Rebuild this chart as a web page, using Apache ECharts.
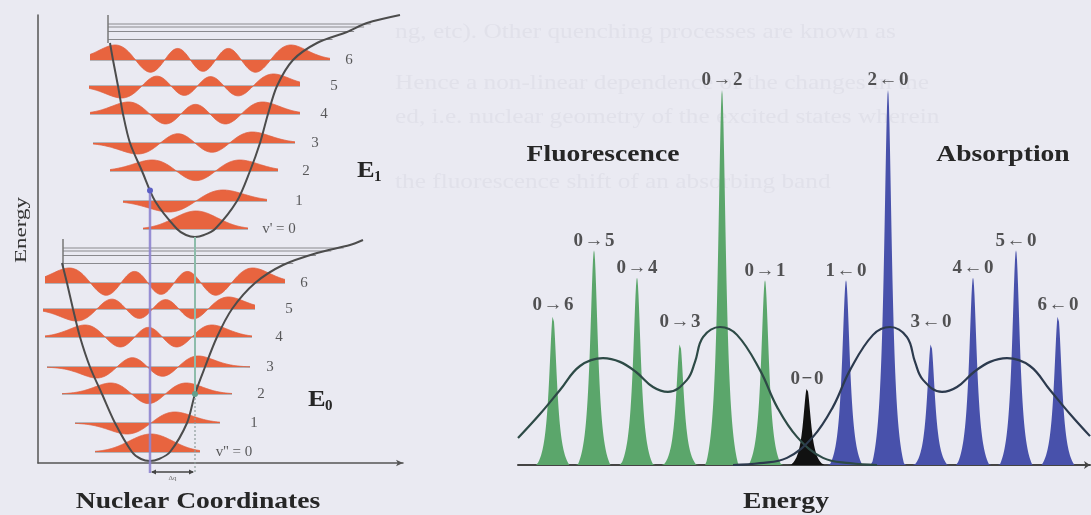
<!DOCTYPE html>
<html>
<head>
<meta charset="utf-8">
<script src="https://cdn.jsdelivr.net/npm/echarts@6.0.0/dist/echarts.min.js"></script>
<style>
html,body{margin:0;padding:0;background:#eaeaf2;overflow:hidden;}
#chart{width:1091px;height:515px;}
</style>
</head>
<body>
<div id="chart"></div>
<script>
// ================= DATA =================
// ---- Left panel: potential energy curves (nuclear coordinate vs energy, arbitrary units) ----
const groundMin  = [1.12, 0.02];
const excitedMin = [1.57, 2.26];
const groundShapeDx  = [-0.88,-0.83,-0.77,-0.70,-0.60,-0.48,-0.35,-0.18,-0.09,0,0.09,0.20,0.37,0.45,0.55,0.67,0.82,1.05,1.33,1.67,2.00,2.13];
const groundShapeDy  = [1.98,1.78,1.52,1.24,0.94,0.67,0.38,0.09,0.02,0,0.02,0.09,0.38,0.67,0.94,1.24,1.52,1.78,1.96,2.08,2.16,2.21];
const excitedShapeDx = [-0.85,-0.82,-0.77,-0.72,-0.65,-0.53,-0.40,-0.18,-0.09,0,0.09,0.20,0.42,0.55,0.65,0.73,0.82,0.98,1.22,1.52,1.72,2.05];
const excitedShapeDy = [1.94,1.77,1.51,1.23,0.94,0.66,0.36,0.08,0.02,0,0.02,0.08,0.36,0.66,0.94,1.23,1.51,1.77,1.94,2.05,2.14,2.22];
const groundLevels  = [0.09,0.38,0.67,0.94,1.24,1.52,1.78];
const excitedLevels = [0.08,0.36,0.66,0.94,1.23,1.51,1.77];
const groundLevelLeft   = [-0.55,-0.75,-0.88,-1.03,-1.05,-1.07,-1.05];
const groundLevelRight  = [0.50,0.70,0.82,1.00,1.02,1.05,1.35];
const excitedLevelLeft  = [-0.52,-0.72,-0.85,-1.02,-1.05,-1.06,-1.05];
const excitedLevelRight = [0.53,0.72,0.83,1.00,1.05,1.05,1.35];
const waveAmplitude = [0.18,0.11,0.11,0.11,0.12,0.12,0.15];
const dissociationDy = [2.13,2.10,2.055,1.975];
const dissociationLeftDx = -0.87;
const dissociationTickDy = [1.94,2.22];
const levelLabelDx = [0.84,1.04,1.11,1.20,1.29,1.39,1.54];
const groundLevelNames  = ["v'' = 0","1","2","3","4","5","6"];
const excitedLevelNames = ["v' = 0","1","2","3","4","5","6"];

// ---- Right panel: spectrum (energy vs intensity, arbitrary units) ----
const fluorPos   = [1.75, 3.8, 5.95, 8.1, 10.2, 12.35];
const fluorInt   = [0.40, 0.573, 0.50, 0.325, 1.0, 0.493];
const fluorNames = ['0\u200a\u2192\u200a6','0\u200a\u2192\u200a5','0\u200a\u2192\u200a4','0\u200a\u2192\u200a3','0\u200a\u2192\u200a2','0\u200a\u2192\u200a1'];
const zeroPos    = [14.45];
const zeroInt    = [0.205];
const zeroNames  = ['0\u200a\u2212\u200a0'];
const absPos     = [16.4, 18.5, 20.65, 22.75, 24.9, 27.0];
const absInt     = [0.493, 1.0, 0.325, 0.50, 0.573, 0.40];
const absNames   = ['1\u200a\u2190\u200a0','2\u200a\u2190\u200a0','3\u200a\u2190\u200a0','4\u200a\u2190\u200a0','5\u200a\u2190\u200a0','6\u200a\u2190\u200a0'];
const fluorLabelLift = [0,0,0,12,0,0];
const absLabelLift   = [0,0,12,0,0,0];
const fluorEnvX = [0,1.1,2.1,3.1,4.25,5.1,5.9,6.75,7.5,8.45,8.85,9.25,10.1,10.95,12.1,12.95,13.95,15.25,16.6,17.95];
const fluorEnvY = [0.072,0.136,0.2,0.264,0.285,0.275,0.248,0.208,0.195,0.227,0.275,0.341,0.368,0.347,0.253,0.155,0.075,0.019,0.005,0.0];
const absEnvX = [10.75,12.1,13.45,14.75,15.75,16.6,17.75,18.6,19.45,19.85,20.25,21.2,21.95,22.8,23.6,24.45,25.6,26.6,27.6,28.6];
const absEnvY = [0.0,0.005,0.019,0.075,0.155,0.253,0.347,0.368,0.341,0.275,0.227,0.195,0.208,0.248,0.275,0.285,0.264,0.2,0.136,0.077];

// ================= HELPERS =================
const SERIF = "'Liberation Serif','Times New Roman','DejaVu Serif',serif";
function branchDx(dxs, dys, target, side){
  const m = dxs.indexOf(0);
  if (side < 0){
    for (let i=m;i>0;i--){ const a=dys[i], b=dys[i-1]; if (target>=a && target<=b){ const t=(target-a)/(b-a); return dxs[i]+t*(dxs[i-1]-dxs[i]); } }
    return dxs[0];
  }
  for (let i=m;i<dxs.length-1;i++){ const a=dys[i], b=dys[i+1]; if (target>=a && target<=b){ const t=(target-a)/(b-a); return dxs[i]+t*(dxs[i+1]-dxs[i]); } }
  return dxs[dxs.length-1];
}
function branchDy(dxs, dys, x, side){
  const m = dxs.indexOf(0);
  if (side < 0){
    for (let i=m;i>0;i--){ const a=dxs[i], b=dxs[i-1]; if (x<=a && x>=b){ const t=(x-a)/(b-a); return dys[i]+t*(dys[i-1]-dys[i]); } }
  } else {
    for (let i=m;i<dxs.length-1;i++){ const a=dxs[i], b=dxs[i+1]; if (x>=a && x<=b){ const t=(x-a)/(b-a); return dys[i]+t*(dys[i+1]-dys[i]); } }
  }
  return 0;
}
function hermite(n, x){
  if (n===0) return 1;
  let h0=1, h1=2*x;
  for (let k=1;k<n;k++){ const h2=2*x*h1-2*k*h0; h0=h1; h1=h2; }
  return h1;
}
const states = [
  {min:groundMin, dx:groundShapeDx, dy:groundShapeDy, levels:groundLevels, left:groundLevelLeft, right:groundLevelRight, names:groundLevelNames},
  {min:excitedMin, dx:excitedShapeDx, dy:excitedShapeDy, levels:excitedLevels, left:excitedLevelLeft, right:excitedLevelRight, names:excitedLevelNames}
];
const waves = [];
states.forEach(st => st.levels.forEach((lv, v) => {
  const xl = branchDx(st.dx, st.dy, lv, -1), xr = branchDx(st.dx, st.dy, lv, 1);
  const c = (xl+xr)/2, s = (xr-xl)/2/Math.sqrt(2*v+1)*1.15;
  const L = st.left[v], R = st.right[v], N = 220, raw = [];
  for (let i=0;i<=N;i++){ const x=L+(R-L)*i/N, xi=(x-c)/s; raw.push([x, hermite(v,xi)*Math.exp(-xi*xi/2)]); }
  const mx = Math.max(...raw.map(r=>Math.abs(r[1])));
  waves.push({y:st.min[1]+lv, x0:st.min[0]+L, x1:st.min[0]+R,
    pts: raw.map(r=>[st.min[0]+r[0], st.min[1]+lv+waveAmplitude[v]*r[1]/mx])});
}));
function curvePoints(st){ return st.dx.map((d,i)=>[st.min[0]+d, st.min[1]+st.dy[i]]); }

function peakShape(d){ const g=0.24, R=0.82; if (d>=R) return 0; const L=1/(1+(d/g)*(d/g)), LR=1/(1+(R/g)*(R/g)); return (L-LR)/(1-LR); }
function groupSamples(pos, inten){
  const xs=[]; for (let i=0;i<=1144;i++) xs.push(i*0.025);
  pos.forEach(p=>xs.push(p)); xs.sort((a,b)=>a-b);
  return xs.map(x=>[x, Math.max(0, ...pos.map((p,i)=>inten[i]*peakShape(Math.abs(x-p))))]);
}
function zipXY(xs, ys){ return xs.map((x,i)=>[x, ys[i]]); }

// transitions
const purpleX = groundMin[0];
const purpleTop = excitedMin[1] + branchDy(excitedShapeDx, excitedShapeDy, purpleX-excitedMin[0], -1);
const tealX = excitedMin[0];
const tealBot = groundMin[1] + branchDy(groundShapeDx, groundShapeDy, tealX-groundMin[0], 1);

// ================= CHART =================
const chart = echarts.init(document.getElementById('chart'), null, {renderer:'canvas', width:1091, height:515});
const noAxisBits = {axisTick:{show:false}, axisLabel:{show:false}, splitLine:{show:false}};

const labelFont = {fontFamily:SERIF, fontSize:19, fontWeight:'bold', color:'#2a2a2a'};
function peakLabelData(pos, inten, names, lift){
  return pos.map((p,i)=>({value:[p, inten[i]], name:names[i], label:{offset:[0, -(lift ? lift[i] : 0)]}}));
}

const option = {
  backgroundColor:'#eaeaf2',
  animation:false,
  grid:[
    {left:38, top:15, width:365, height:448, outerBoundsMode:'none'},
    {left:518, top:90, width:572, height:375, outerBoundsMode:'none'}
  ],
  xAxis:[
    Object.assign({gridIndex:0, type:'value', min:0, max:3.65,
      axisLine:{show:true, onZero:false, symbol:['none','arrow'], symbolSize:[5,7], lineStyle:{color:'#555', width:1.5}}}, noAxisBits),
    Object.assign({gridIndex:1, type:'value', min:0, max:28.6,
      axisLine:{show:true, onZero:false, symbol:['none','arrow'], symbolSize:[6,6], lineStyle:{color:'#444', width:2}}}, noAxisBits)
  ],
  yAxis:[
    Object.assign({gridIndex:0, type:'value', min:0, max:4.48,
      axisLine:{show:true, onZero:false, lineStyle:{color:'#555', width:1.5}}}, noAxisBits),
    Object.assign({gridIndex:1, type:'value', min:0, max:1, show:false}, noAxisBits)
  ],
  series:[
    // dissociation limit lines
    {type:'custom', xAxisIndex:0, yAxisIndex:0, z:2, silent:true, clip:false,
      data: states.map((st,i)=>[st.min[0], st.min[1], i]),
      renderItem:function(params, api){
        const st = states[params.dataIndex];
        const ch = [];
        dissociationDy.forEach(d=>{
          const a = api.coord([st.min[0]+dissociationLeftDx, st.min[1]+d]);
          const b = api.coord([st.min[0]+branchDx(st.dx, st.dy, d, 1), st.min[1]+d]);
          ch.push({type:'line', shape:{x1:a[0],y1:a[1],x2:b[0]+6,y2:b[1]}, style:{stroke:'#8a8a8e', lineWidth:1}});
        });
        const t1 = api.coord([st.min[0]+dissociationLeftDx, st.min[1]+dissociationTickDy[0]]);
        const t2 = api.coord([st.min[0]+dissociationLeftDx, st.min[1]+dissociationTickDy[1]]);
        ch.push({type:'line', shape:{x1:t1[0],y1:t1[1],x2:t2[0],y2:t2[1]}, style:{stroke:'#777', lineWidth:1.5}});
        return {type:'group', children:ch};
      }},
    // vibrational wavefunctions
    {type:'custom', xAxisIndex:0, yAxisIndex:0, z:2, silent:true, clip:false,
      data: waves.map(w=>[(w.x0+w.x1)/2, w.y]),
      renderItem:function(params, api){
        const w = waves[params.dataIndex];
        const pts = w.pts.map(p=>api.coord(p));
        const b0 = api.coord([w.x0, w.y]), b1 = api.coord([w.x1, w.y]);
        return {type:'group', children:[
          {type:'line', shape:{x1:b0[0],y1:b0[1],x2:b1[0],y2:b1[1]}, style:{stroke:'#707070', lineWidth:0.9}},
          {type:'polygon', shape:{points:pts.concat([b1,b0])}, style:{fill:'#e8643f', stroke:null}},
          {type:'polyline', shape:{points:pts}, style:{stroke:'#de6040', lineWidth:0.8, fill:null}}
        ]};
      }},
    // potential curves
    {type:'line', name:'E0', xAxisIndex:0, yAxisIndex:0, z:3, clip:false, silent:true, showSymbol:false, symbol:'none', smooth:0.3,
      data: curvePoints(states[0]), lineStyle:{color:'#4c4c4c', width:2}},
    {type:'line', name:'E1', xAxisIndex:0, yAxisIndex:0, z:3, clip:false, silent:true, showSymbol:false, symbol:'none', smooth:0.3,
      data: curvePoints(states[1]), lineStyle:{color:'#4c4c4c', width:2}},
    // vertical transitions + displacement bracket
    {type:'custom', xAxisIndex:0, yAxisIndex:0, z:4, silent:true, clip:false,
      data:[[purpleX, purpleTop, tealX, tealBot]],
      renderItem:function(params, api){
        const pT = api.coord([purpleX, purpleTop]), pB = api.coord([purpleX, -0.10]);
        const tT = api.coord([tealX, excitedMin[1]]), tM = api.coord([tealX, tealBot]), tB = api.coord([tealX, -0.10]);
        const aL = api.coord([purpleX, -0.09]), aR = api.coord([tealX, -0.09]);
        const y = aL[1];
        return {type:'group', children:[
          {type:'line', shape:{x1:pT[0],y1:pT[1],x2:pB[0],y2:pB[1]}, style:{stroke:'#8e84cf', lineWidth:2.5, opacity:0.9}},
          {type:'line', shape:{x1:tT[0],y1:tT[1],x2:tM[0],y2:tM[1]}, style:{stroke:'#8dbcab', lineWidth:2}},
          {type:'line', shape:{x1:tM[0],y1:tM[1],x2:tB[0],y2:tB[1]}, style:{stroke:'#8d9c9a', lineWidth:1.2, lineDash:[2,2]}},
          {type:'circle', shape:{cx:pT[0], cy:pT[1]+1, r:3}, style:{fill:'#5b5ec4'}},
          {type:'circle', shape:{cx:tM[0], cy:tM[1], r:3}, style:{fill:'#63a08b'}},
          {type:'line', shape:{x1:aL[0]+2,y1:y,x2:aR[0]-2,y2:y}, style:{stroke:'#444', lineWidth:1.3}},
          {type:'polygon', shape:{points:[[aL[0]+1,y],[aL[0]+6,y-2.5],[aL[0]+6,y+2.5]]}, style:{fill:'#444'}},
          {type:'polygon', shape:{points:[[aR[0]-1,y],[aR[0]-6,y-2.5],[aR[0]-6,y+2.5]]}, style:{fill:'#444'}},
          {type:'text', x:(aL[0]+aR[0])/2, y:y+6, style:{text:'\u0394q', fontSize:7, fontFamily:SERIF, fill:'#666', align:'center', verticalAlign:'middle'}}
        ]};
      }},
    // level labels
    {type:'scatter', xAxisIndex:0, yAxisIndex:0, z:5, silent:true, symbolSize:0, clip:false,
      data: states.flatMap(st=>st.levels.map((lv,v)=>({value:[st.min[0]+levelLabelDx[v], st.min[1]+lv], name:st.names[v]}))),
      label:{show:true, position:'inside', formatter:'{b}', fontFamily:SERIF, fontSize:15, color:'#333'}},

    // ---- spectrum ----
    {type:'line', name:'Fluorescence', xAxisIndex:1, yAxisIndex:1, z:2, silent:true, showSymbol:false, symbol:'none',
      data: groupSamples(fluorPos, fluorInt), lineStyle:{width:0}, areaStyle:{color:'#5ba66b', opacity:1}},
    {type:'line', name:'0-0', xAxisIndex:1, yAxisIndex:1, z:2, silent:true, showSymbol:false, symbol:'none',
      data: groupSamples(zeroPos, zeroInt), lineStyle:{width:0}, areaStyle:{color:'#111111', opacity:1}},
    {type:'line', name:'Absorption', xAxisIndex:1, yAxisIndex:1, z:2, silent:true, showSymbol:false, symbol:'none',
      data: groupSamples(absPos, absInt), lineStyle:{width:0}, areaStyle:{color:'#4851ab', opacity:1}},
    {type:'line', name:'Fluorescence envelope', xAxisIndex:1, yAxisIndex:1, z:3, silent:true, showSymbol:false, symbol:'none', smooth:0.4,
      data: zipXY(fluorEnvX, fluorEnvY), lineStyle:{color:'#2d4a46', width:2.2}},
    {type:'line', name:'Absorption envelope', xAxisIndex:1, yAxisIndex:1, z:3, silent:true, showSymbol:false, symbol:'none', smooth:0.4,
      data: zipXY(absEnvX, absEnvY), lineStyle:{color:'#2c3a4e', width:2.2}},
    {type:'scatter', xAxisIndex:1, yAxisIndex:1, z:5, silent:true, symbolSize:0, clip:false,
      data: peakLabelData(fluorPos, fluorInt, fluorNames, fluorLabelLift)
        .concat(peakLabelData(zeroPos, zeroInt, zeroNames, null))
        .concat(peakLabelData(absPos, absInt, absNames, absLabelLift)),
      label:Object.assign({show:true, position:'top', distance:0, formatter:'{b}'}, labelFont)}
  ],
  graphic:[
    // faint bleed-through text of the scanned page
    {type:'text', x:395, y:32, z:-10, scaleX:1.15, silent:true, style:{text:'ng, etc). Other quenching processes are known as', fontFamily:SERIF, fontSize:22, fill:'#e1e1ea', verticalAlign:'middle'}},
    {type:'text', x:395, y:83, z:-10, scaleX:1.15, silent:true, style:{text:'Hence a non-linear dependence of the changes in the', fontFamily:SERIF, fontSize:22, fill:'#e1e1ea', verticalAlign:'middle'}},
    {type:'text', x:395, y:117, z:-10, scaleX:1.15, silent:true, style:{text:'ed, i.e. nuclear geometry of the excited states wherein', fontFamily:SERIF, fontSize:22, fill:'#e1e1ea', verticalAlign:'middle'}},
    {type:'text', x:395, y:182, z:-10, scaleX:1.15, silent:true, style:{text:'the fluorescence shift of an absorbing band', fontFamily:SERIF, fontSize:22, fill:'#e1e1ea', verticalAlign:'middle'}},
    // titles
    {type:'text', x:22, y:230, rotation:Math.PI/2, scaleX:1.35, style:{text:'Energy', fontFamily:SERIF, fontSize:17, fill:'#333', align:'center', verticalAlign:'middle'}},
    {type:'text', x:198, y:502, scaleX:1.2, style:{text:'Nuclear Coordinates', fontFamily:SERIF, fontSize:23, fontWeight:'bold', fill:'#262626', align:'center', verticalAlign:'middle'}},
    {type:'text', x:357, y:171, scaleX:1.1, style:{text:'E', fontFamily:SERIF, fontSize:24, fontWeight:'bold', fill:'#262626', align:'left', verticalAlign:'middle'}},
    {type:'text', x:374, y:177, style:{text:'1', fontFamily:SERIF, fontSize:15, fontWeight:'bold', fill:'#262626', align:'left', verticalAlign:'middle'}},
    {type:'text', x:308, y:400, scaleX:1.1, style:{text:'E', fontFamily:SERIF, fontSize:24, fontWeight:'bold', fill:'#262626', align:'left', verticalAlign:'middle'}},
    {type:'text', x:325, y:406, style:{text:'0', fontFamily:SERIF, fontSize:15, fontWeight:'bold', fill:'#262626', align:'left', verticalAlign:'middle'}},
    {type:'text', x:603, y:155, scaleX:1.2, style:{text:'Fluorescence', fontFamily:SERIF, fontSize:23, fontWeight:'bold', fill:'#262626', align:'center', verticalAlign:'middle'}},
    {type:'text', x:1003, y:155, scaleX:1.2, style:{text:'Absorption', fontFamily:SERIF, fontSize:23, fontWeight:'bold', fill:'#262626', align:'center', verticalAlign:'middle'}},
    {type:'text', x:786, y:502, scaleX:1.2, style:{text:'Energy', fontFamily:SERIF, fontSize:23, fontWeight:'bold', fill:'#262626', align:'center', verticalAlign:'middle'}}
  ]
};
chart.setOption(option);
</script>
</body>
</html>
